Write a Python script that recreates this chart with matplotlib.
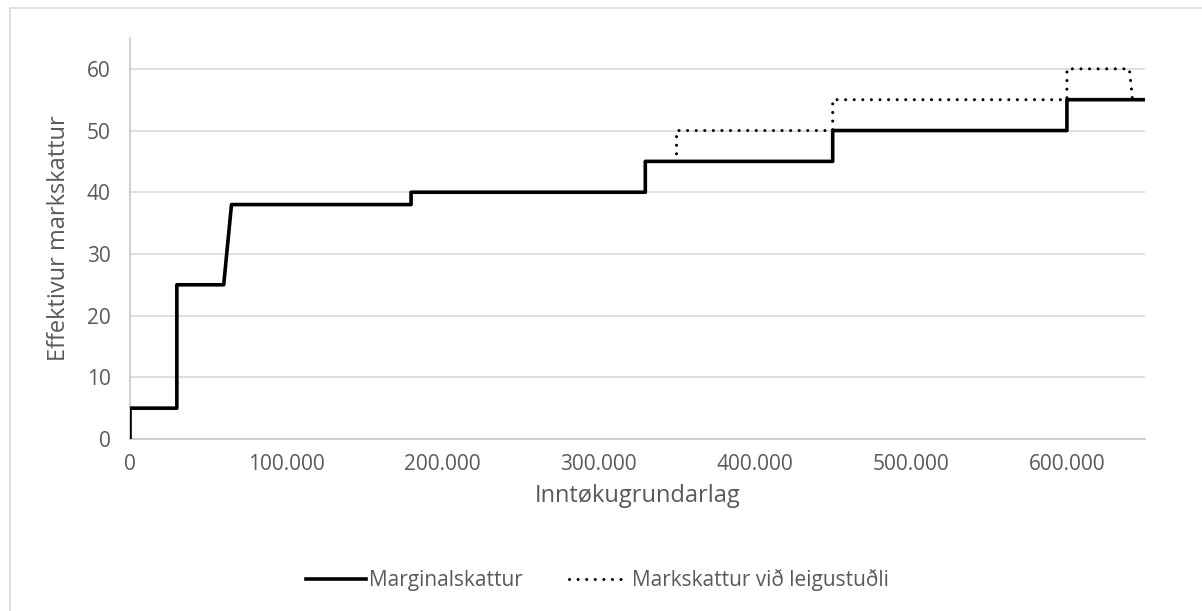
import matplotlib
matplotlib.use("Agg")
import matplotlib.pyplot as plt
from matplotlib.patches import Rectangle
from matplotlib.ticker import FuncFormatter

# breakpoints of the step curves (income, rate in %)
income_marginal = [0, 0, 30000, 30000, 60000, 65000, 180000, 180000,
                   330000, 330000, 450000, 450000, 600000, 600000, 650000]
rate_marginal = [0, 5, 5, 25, 25, 38, 38, 40, 40, 45, 45, 50, 50, 55, 55]

income_rent = [0, 0, 30000, 30000, 60000, 65000, 180000, 180000,
               330000, 330000, 350000, 350000, 450000, 450000,
               600000, 600000, 640000, 642000, 650000]
rate_rent = [0, 5, 5, 25, 25, 38, 38, 40, 40, 45, 45, 50, 50, 55,
             55, 60, 60, 55, 55]

label_marginal = "Marginalskattur"
label_rent = "Markskattur við leigustuðli"
xlabel = "Inntøkugrundarlag"
ylabel = "Effektivur markskattur"
yticks = [0, 10, 20, 30, 40, 50, 60]
xticks = [0, 100000, 200000, 300000, 400000, 500000, 600000]

plt.rcParams['font.family'] = ['Open Sans', 'DejaVu Sans']
grey = '#595959'

fig = plt.figure(figsize=(12.02, 6.11), dpi=100)
ax = fig.add_axes([130/1202, 1-439/611, (1145-130)/1202, (439-38)/611])

ax.plot(income_rent, rate_rent, color='black', lw=2.2, ls=(0, (0.01, 2.8)),
        dash_capstyle='round', label=label_rent, zorder=3)
ax.plot(income_marginal, rate_marginal, color='black', lw=2.6,
        label=label_marginal, zorder=4)

ax.set_xlim(0, 650000)
ax.set_ylim(0, 65)
ax.set_yticks(yticks)
ax.set_xticks(xticks)
ax.xaxis.set_major_formatter(FuncFormatter(lambda v, p: f"{int(v):,}".replace(",", ".")))
ax.grid(axis='y', color='#d9d9d9', lw=1.2)
ax.set_axisbelow(True)
for s in ['top', 'right']:
    ax.spines[s].set_visible(False)
ax.spines['left'].set_color('#c8c8c8')
ax.spines['bottom'].set_color('#c8c8c8')
ax.spines['left'].set_linewidth(1.2)
ax.spines['bottom'].set_linewidth(1.2)
ax.tick_params(length=0, labelsize=15, colors=grey)
ax.tick_params(axis='y', pad=14)
ax.tick_params(axis='x', pad=11)

ax.set_xlabel(xlabel, fontsize=17, color=grey, labelpad=6)
ax.set_ylabel(ylabel, fontsize=17, color=grey, labelpad=11)

h, l = ax.get_legend_handles_labels()
fig.legend(h[::-1], l[::-1], loc='center', bbox_to_anchor=(0.497, 1-580/611),
           ncol=2, frameon=False, fontsize=15, labelcolor=grey,
           handlelength=2.9, handletextpad=0.15, columnspacing=2.2)

# chart area border
fig.add_artist(Rectangle((10/1202, -0.1), 1.2, 1-8/611+0.1,
                         transform=fig.transFigure, fill=False,
                         edgecolor='#d9d9d9', lw=1.2))

fig.savefig("out.png", dpi=100)
